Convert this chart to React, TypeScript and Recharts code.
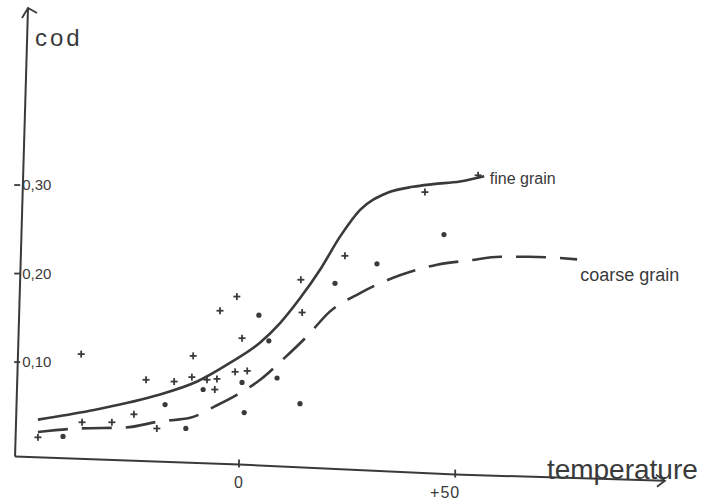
import React from 'react';
import { ComposedChart, Line, Scatter, XAxis, YAxis, ReferenceLine, ReferenceDot } from 'recharts';

// Smooth curve, fine grain (solid)
const fineCurve = [
  { x: -46.5, y: 0.035 }, { x: -34.5, y: 0.045 }, { x: -20, y: 0.061 }, { x: -9.7, y: 0.078 },
  { x: -2.1, y: 0.099 }, { x: 4.9, y: 0.122 }, { x: 9.5, y: 0.144 }, { x: 14.1, y: 0.172 },
  { x: 18.7, y: 0.204 }, { x: 23.4, y: 0.242 }, { x: 28, y: 0.272 }, { x: 34.2, y: 0.291 },
  { x: 40.2, y: 0.298 }, { x: 44.9, y: 0.301 }, { x: 51.1, y: 0.304 }, { x: 56.7, y: 0.31 },
];

// Smooth curve, coarse grain (dashed)
const coarseCurve = [
  { x: -46.5, y: 0.021 }, { x: -36.8, y: 0.025 }, { x: -26.4, y: 0.026 }, { x: -18.3, y: 0.033 },
  { x: -11.3, y: 0.037 }, { x: -5.6, y: 0.05 }, { x: -0.5, y: 0.063 }, { x: 4.9, y: 0.08 },
  { x: 10.6, y: 0.105 }, { x: 15.7, y: 0.129 }, { x: 21, y: 0.157 }, { x: 28, y: 0.178 },
  { x: 37.2, y: 0.198 }, { x: 45.8, y: 0.21 }, { x: 53.4, y: 0.215 }, { x: 60.4, y: 0.219 },
  { x: 67, y: 0.219 }, { x: 78.2, y: 0.216 },
];

// Measured points, fine grain (crosses)
const fineSamples = [
  { x: -36.5, y: 0.109 }, { x: -46.5, y: 0.015 }, { x: -36.3, y: 0.032 }, { x: -29.4, y: 0.032 },
  { x: -24.3, y: 0.041 }, { x: -21.5, y: 0.08 }, { x: -19, y: 0.025 }, { x: -15, y: 0.078 },
  { x: -10.9, y: 0.083 }, { x: -10.6, y: 0.107 }, { x: -7.4, y: 0.08 }, { x: -5.1, y: 0.081 },
  { x: -5.6, y: 0.069 }, { x: -4.4, y: 0.158 }, { x: -0.5, y: 0.174 }, { x: 0.7, y: 0.127 },
  { x: -0.9, y: 0.089 }, { x: 1.9, y: 0.09 }, { x: 14.6, y: 0.156 }, { x: 14.3, y: 0.193 },
  { x: 24.5, y: 0.22 }, { x: 43, y: 0.292 }, { x: 55.3, y: 0.311 },
];

// Measured points, coarse grain (dots)
const coarseSamples = [
  { x: -40.7, y: 0.016 }, { x: -17.1, y: 0.052 }, { x: -12.3, y: 0.025 }, { x: -8.3, y: 0.069 },
  { x: 0.7, y: 0.077 }, { x: 1.2, y: 0.043 }, { x: 4.6, y: 0.153 }, { x: 6.9, y: 0.124 },
  { x: 8.8, y: 0.082 }, { x: 14.1, y: 0.053 }, { x: 22.2, y: 0.189 }, { x: 31.9, y: 0.211 },
  { x: 47.4, y: 0.244 },
];

const xTicks = [0, 50];
const xTickLabels = ['0', '+50'];
const yTicks = [0.1, 0.2, 0.3];
const yTickLabels = ['0,10', '0,20', '0,30'];

const INK = '#3a3a3a';
const FONT = '"Liberation Sans", Arial, sans-serif';

// hand-drawn axes (slightly slanted)
const xAxisPath = [
  { x: -51.8, y: -0.0068 }, { x: 0, y: -0.0158 }, { x: 50, y: -0.0271 }, { x: 98.5, y: -0.034 },
];
const yAxisPath = [
  { x: -51.8, y: -0.0068 }, { x: -48.8, y: 0.5 },
];

const xAxisAt = (v: number) => {
  for (let i = 0; i < xAxisPath.length - 1; i++) {
    const a = xAxisPath[i], b = xAxisPath[i + 1];
    if (v >= a.x && v <= b.x) return a.y + ((v - a.x) / (b.x - a.x)) * (b.y - a.y);
  }
  return xAxisPath[xAxisPath.length - 1].y;
};

const Cross = (p: any) => {
  const { cx, cy } = p;
  if (cx == null || cy == null) return null;
  return (
    <g stroke={INK} strokeWidth={1.8}>
      <line x1={cx - 3.5} y1={cy} x2={cx + 3.5} y2={cy} />
      <line x1={cx} y1={cy - 3.5} x2={cx} y2={cy + 3.5} />
    </g>
  );
};

const Dot = (p: any) => {
  const { cx, cy } = p;
  if (cx == null || cy == null) return null;
  return <circle cx={cx} cy={cy} r={2.6} fill={INK} />;
};

const textShape = (label: string, size: number, extra: any = {}) => (p: any) => (
  <text x={p.cx} y={p.cy} fontSize={size} fontFamily={FONT} fill={INK} {...extra}>{label}</text>
);

export default function App() {
  return (
    <div style={{ position: 'absolute', left: 0, top: 0, width: 710, height: 500, background: '#fff' }}>
      <ComposedChart width={710} height={500} margin={{ top: 8, right: 4, bottom: 14, left: 12 }}>
        <XAxis type="number" dataKey="x" domain={[-52.5, 108]} allowDataOverflow hide />
        <YAxis type="number" dataKey="y" domain={[-0.04, 0.5]} allowDataOverflow hide />

        {xAxisPath.slice(0, -1).map((a, i) => (
          <ReferenceLine key={'xa' + i} segment={[a, xAxisPath[i + 1]]} stroke={INK} strokeWidth={2} ifOverflow="visible" />
        ))}
        <ReferenceLine segment={[yAxisPath[0], yAxisPath[1]]} stroke={INK} strokeWidth={2} ifOverflow="visible" />
        <ReferenceDot x={-48.8} y={0.5} ifOverflow="visible" shape={(p: any) => (
          <g stroke={INK} strokeWidth={1.8} fill="none">
            <polyline points={`${p.cx - 6},${p.cy + 10} ${p.cx},${p.cy} ${p.cx + 9},${p.cy + 5}`} />
          </g>
        )} />
        <ReferenceDot x={98.5} y={-0.034} ifOverflow="visible" shape={(p: any) => (
          <g stroke={INK} strokeWidth={1.8} fill="none">
            <polyline points={`${p.cx - 9},${p.cy - 6} ${p.cx},${p.cy} ${p.cx - 8},${p.cy + 6}`} />
          </g>
        )} />

        {xTicks.map((v, i) => (
          <ReferenceDot key={'xt' + v} x={v} y={xAxisAt(v)} ifOverflow="visible" shape={(p: any) => (
            <g>
              <line x1={p.cx} y1={p.cy - 5} x2={p.cx} y2={p.cy + 3} stroke={INK} strokeWidth={1.8} />
              <text x={p.cx + 5} y={p.cy + 23} textAnchor="end" fontSize={16} letterSpacing={1} fontFamily={FONT} fill={INK}>{xTickLabels[i]}</text>
            </g>
          )} />
        ))}
        {yTicks.map((v, i) => (
          <ReferenceDot key={'yt' + v} x={-51.3} y={v} ifOverflow="visible" shape={(p: any) => (
            <g>
              <line x1={p.cx - 3} y1={p.cy} x2={p.cx + 3} y2={p.cy} stroke={INK} strokeWidth={1.8} />
              <text x={p.cx + 5} y={p.cy + 5} fontSize={15} fontFamily={FONT} fill={INK}>{yTickLabels[i]}</text>
            </g>
          )} />
        ))}

        <Line data={coarseCurve} dataKey="y" type="monotone" stroke={INK} strokeWidth={2.6} strokeDasharray="30 14" dot={false} activeDot={false} isAnimationActive={false} />
        <Line data={fineCurve} dataKey="y" type="monotone" stroke={INK} strokeWidth={2.6} dot={false} activeDot={false} isAnimationActive={false} />
        <Scatter data={fineSamples} dataKey="y" shape={Cross} isAnimationActive={false} />
        <Scatter data={coarseSamples} dataKey="y" shape={Dot} isAnimationActive={false} />

        <ReferenceDot x={-47.2} y={0.457} ifOverflow="visible" shape={textShape('cod', 24, { letterSpacing: 3 })} />
        <ReferenceDot x={58} y={0.301} ifOverflow="visible" shape={textShape('fine grain', 16)} />
        <ReferenceDot x={78.9} y={0.192} ifOverflow="visible" shape={textShape('coarse grain', 18)} />
        <ReferenceDot x={71.2} y={-0.0316} ifOverflow="visible" shape={textShape('temperature', 28)} />
      </ComposedChart>
    </div>
  );
}
